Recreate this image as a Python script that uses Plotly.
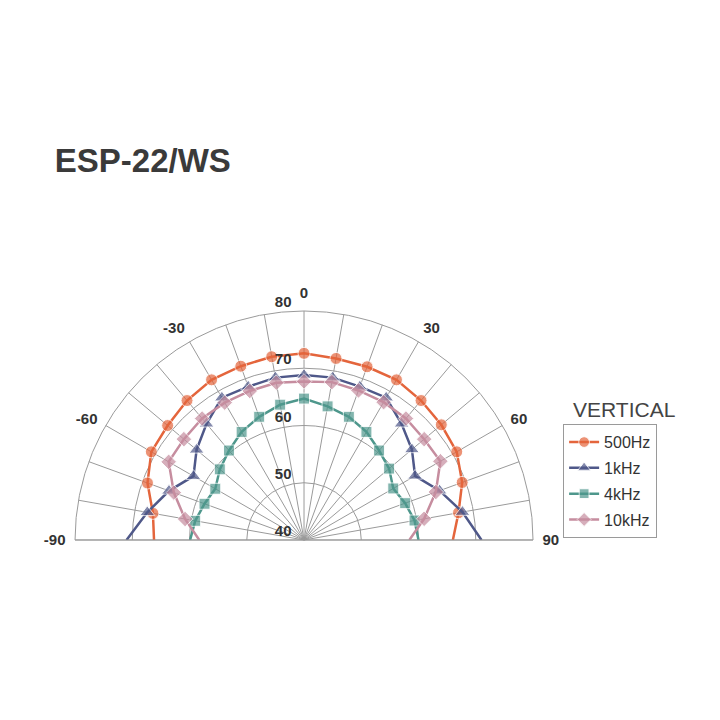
import plotly.graph_objects as go

# polar response, angle in degrees, level in dB
angles = [-90, -80, -70, -60, -50, -40, -30, -20, -10, 0, 10, 20, 30, 40, 50, 60, 70, 80, 90]
hz500 = [66.2, 66.8, 69.1, 70.8, 71.1, 71.8, 72.3, 72.3, 72.5, 72.6, 72.2, 72.2, 72.3, 71.8, 71.3, 70.8, 69.4, 67.4, 66.0]
khz1 = [71.0, 67.8, 65.1, 62.3, 64.5, 66.5, 68.7, 68.5, 68.8, 68.8, 68.8, 68.5, 68.7, 66.5, 64.6, 62.4, 65.2, 68.1, 71.0]
khz4 = [59.9, 59.3, 58.5, 57.9, 59.2, 60.4, 61.8, 62.9, 64.0, 64.7, 63.7, 62.9, 61.8, 60.4, 59.4, 58.0, 58.8, 59.6, 60.0]
khz10 = [58.3, 61.1, 64.2, 67.3, 67.4, 67.7, 67.7, 67.7, 67.9, 67.7, 68.0, 67.8, 67.8, 67.7, 67.4, 67.5, 64.5, 61.3, 58.4]

series_names = ["500Hz", "1kHz", "4kHz", "10kHz"]
radial_ticks = [40, 50, 60, 70, 80]
angle_ticks = list(range(-90, 91, 10))
angle_labels = [str(a) if a % 30 == 0 else "" for a in angle_ticks]

colors = ["#E4653C", "#4F5889", "#4E978C", "#C68D9F"]
symbols = ["circle", "triangle-up", "square", "diamond"]
sizes = [12, 13, 11, 12]

fig = go.Figure()
for name, vals, c, s, sz in zip(series_names, [hz500, khz1, khz4, khz10], colors, symbols, sizes):
    # no marker on the ±90 end points (they sit on the base line)
    msize = [0 if abs(a) == 90 else sz for a in angles]
    fig.add_trace(go.Scatterpolar(
        r=vals, theta=angles, name=name, mode="lines+markers", legendgroup=name,
        line=dict(color=c, width=2.5),
        marker=dict(color=c, symbol=s, size=msize),
    ))

# radial scale labels, written above-left of each ring on the 0 spoke
fig.add_trace(go.Scatterpolar(
    r=radial_ticks, theta=[0] * len(radial_ticks), mode="text",
    text=[str(v) + "\u00a0\u00a0\u00a0" for v in radial_ticks], textposition="top left",
    textfont=dict(size=15, color="#333333", weight="bold"),
    showlegend=False, hoverinfo="skip",
))

fig.update_layout(
    width=720, height=720,
    paper_bgcolor="white", plot_bgcolor="white",
    margin=dict(l=0, r=0, t=0, b=0),
    font=dict(family="Liberation Sans, Arial, sans-serif", color="#333333"),
    title=dict(text="ESP-22/WS", x=0.065, xanchor="left", y=0.788, yanchor="middle",
               pad=dict(l=0, r=0, t=0, b=0),
               font=dict(size=33, color="#3a3a3a", weight="bold")),
    polar=dict(
        domain=dict(x=[0.0931, 0.7292], y=[0.2611, 0.5792]),
        sector=[0, 180],
        gridshape="linear",
        bgcolor="white",
        angularaxis=dict(
            rotation=90, direction="clockwise",
            tickmode="array", tickvals=angle_ticks, ticktext=angle_labels,
            showgrid=True, gridcolor="#9a9a9a", gridwidth=1,
            showline=True, linecolor="#9a9a9a", linewidth=1,
            ticks="outside", ticklen=6, tickcolor="rgba(0,0,0,0)",
            tickfont=dict(size=15, color="#333333", weight="bold"),
        ),
        radialaxis=dict(
            range=[40, 80], tickvals=radial_ticks,
            angle=90, showticklabels=False,
            showgrid=True, gridcolor="#9a9a9a", gridwidth=1,
            showline=False, ticks="",
        ),
    ),
    legend=dict(
        x=0.771, y=0.422, xanchor="left", yanchor="top",
        bordercolor="#9a9a9a", borderwidth=1, bgcolor="white",
        tracegroupgap=2,
        font=dict(size=16, color="#333333"),
    ),
    annotations=[dict(text="VERTICAL", x=0.782, y=0.442, xref="paper", yref="paper",
                      xanchor="left", yanchor="middle", showarrow=False,
                      font=dict(size=21, color="#444444"))],
)

fig.write_html("out.html")
